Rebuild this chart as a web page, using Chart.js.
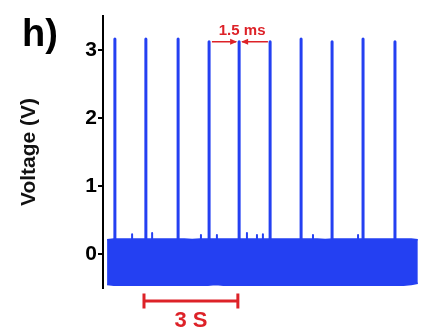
<!DOCTYPE html>
<html>
<head>
<meta charset="utf-8">
<script src="https://cdn.jsdelivr.net/npm/chart.js@4/dist/chart.umd.min.js"></script>
<style>
  html, body { margin: 0; padding: 0; background: #fff; }
  #wrap { width: 433px; height: 329px; position: relative; }
</style>
</head>
<body>
<div id="wrap"><canvas id="trace"></canvas></div>
<script>
// spike train, time in seconds, voltage in volts
const spikeTimes = [0.38, 1.37, 2.4, 3.39, 4.35, 5.34, 6.33, 7.32, 8.31, 9.33];
const spikePeaks = [3.16, 3.16, 3.16, 3.12, 3.12, 3.12, 3.16, 3.12, 3.16, 3.12];

// small blips poking out of the noise band
const blipTimes = [0.93, 1.57, 3.13, 3.64, 4.6, 4.92, 5.11, 6.71, 8.15];
const blipPeaks = [0.29, 0.31, 0.28, 0.28, 0.31, 0.28, 0.29, 0.28, 0.28];

// envelope of the dense noise band
const bandTimes = [0.13, 0.35, 0.6, 0.85, 1.1, 1.35, 1.6, 1.85, 2.1, 2.35, 2.6, 2.85, 3.1, 3.35, 3.6, 3.85, 4.1, 4.35, 4.6, 4.85, 5.1,
  5.35, 5.6, 5.85, 6.1, 6.35, 6.6, 6.85, 7.1, 7.35, 7.6, 7.85, 8.1, 8.35, 8.6, 8.85, 9.1, 9.35, 9.6, 9.85, 10.06];
const bandUpper = [0.21, 0.22, 0.22, 0.22, 0.22, 0.22, 0.22, 0.22, 0.22, 0.22, 0.22, 0.215, 0.22, 0.22, 0.22, 0.22, 0.22, 0.22, 0.22, 0.22, 0.22,
  0.22, 0.22, 0.22, 0.22, 0.22, 0.22, 0.22, 0.215, 0.22, 0.22, 0.22, 0.22, 0.22, 0.22, 0.22, 0.22, 0.22, 0.22, 0.22, 0.21];
const bandLower = [-0.45, -0.46, -0.46, -0.46, -0.455, -0.46, -0.46, -0.46, -0.46, -0.455, -0.46, -0.46, -0.46, -0.46, -0.45, -0.46, -0.46, -0.46, -0.46, -0.455, -0.46,
  -0.46, -0.46, -0.46, -0.46, -0.455, -0.46, -0.46, -0.46, -0.46, -0.46, -0.455, -0.46, -0.46, -0.46, -0.46, -0.46, -0.455, -0.46, -0.45, -0.43];

const yTicks = [0, 1, 2, 3];

// annotations
const scaleBar = { from: 1.31, to: 4.31, level: -0.69, label: "3 S" };
const widthMark = { from: 3.48, to: 5.27, at: 4.35, level: 3.12, label: "1.5 ms" };

const BLUE = "#2440f2";
const RED = "#dd2228";
const FONT = "'Liberation Sans', Arial, sans-serif";

function pulses(times, peaks, base) {
  const pts = [];
  times.forEach((t, i) => {
    pts.push({ x: t, y: base }, { x: t, y: peaks[i] }, { x: t, y: base }, { x: t, y: null });
  });
  return pts;
}

const annotations = {
  id: "annotations",
  afterDraw(chart) {
    const ctx = chart.ctx;
    const xs = chart.scales.x, ys = chart.scales.y;
    ctx.save();

    // panel letter
    ctx.fillStyle = "#000";
    ctx.font = "bold 38px " + FONT;
    ctx.textAlign = "left";
    ctx.textBaseline = "alphabetic";
    ctx.fillText("h)", 22, 46);

    // time scale bar
    const x1 = xs.getPixelForValue(scaleBar.from);
    const x2 = xs.getPixelForValue(scaleBar.to);
    const yb = ys.getPixelForValue(scaleBar.level);
    ctx.strokeStyle = RED;
    ctx.lineWidth = 3;
    ctx.beginPath();
    ctx.moveTo(x1, yb); ctx.lineTo(x2, yb);
    ctx.moveTo(x1, yb - 7.5); ctx.lineTo(x1, yb + 7.5);
    ctx.moveTo(x2, yb - 7.5); ctx.lineTo(x2, yb + 7.5);
    ctx.stroke();
    ctx.fillStyle = RED;
    ctx.font = "bold 22px " + FONT;
    ctx.textAlign = "center";
    ctx.fillText(scaleBar.label, (x1 + x2) / 2, yb + 26);

    // pulse width marker
    const a = xs.getPixelForValue(widthMark.from);
    const b = xs.getPixelForValue(widthMark.to);
    const c = xs.getPixelForValue(widthMark.at);
    const ym = ys.getPixelForValue(widthMark.level);
    ctx.lineWidth = 1.5;
    ctx.beginPath();
    ctx.moveTo(a, ym); ctx.lineTo(c - 3, ym);
    ctx.moveTo(c + 3, ym); ctx.lineTo(b, ym);
    ctx.stroke();
    ctx.beginPath();
    ctx.moveTo(c - 2, ym); ctx.lineTo(c - 9, ym - 3); ctx.lineTo(c - 9, ym + 3); ctx.closePath();
    ctx.moveTo(c + 2, ym); ctx.lineTo(c + 9, ym - 3); ctx.lineTo(c + 9, ym + 3); ctx.closePath();
    ctx.fill();
    ctx.font = "bold 15px " + FONT;
    ctx.fillText(widthMark.label, c + 3, ym - 7);

    ctx.restore();
  },
};

new Chart(document.getElementById("trace"), {
  type: "line",
  data: {
    datasets: [
      {
        label: "band top",
        data: bandTimes.map((t, i) => ({ x: t, y: bandUpper[i] })),
        borderColor: BLUE,
        borderWidth: 1.5,
        fill: false,
      },
      {
        label: "band bottom",
        data: bandTimes.map((t, i) => ({ x: t, y: bandLower[i] })),
        borderColor: BLUE,
        borderWidth: 1.5,
        backgroundColor: BLUE,
        fill: "-1",
      },
      {
        label: "blips",
        data: pulses(blipTimes, blipPeaks, 0.1),
        borderColor: BLUE,
        borderWidth: 2,
        borderCapStyle: "round",
        fill: false,
      },
      {
        label: "spikes",
        data: pulses(spikeTimes, spikePeaks, 0.1),
        borderColor: BLUE,
        borderWidth: 3,
        borderCapStyle: "round",
        fill: false,
      },
    ],
  },
  options: {
    responsive: true,
    maintainAspectRatio: false,
    animation: false,
    spanGaps: false,
    elements: { point: { radius: 0 }, line: { tension: 0, borderJoinStyle: "round" } },
    layout: { padding: { left: 0, top: 16, right: 13, bottom: 41 } },
    plugins: { legend: { display: false }, tooltip: { enabled: false } },
    scales: {
      x: { type: "linear", min: 0, max: 10.13, display: false },
      y: {
        min: -0.5,
        max: 3.5,
        afterBuildTicks(axis) {
          axis.ticks = yTicks.map((v) => ({ value: v }));
        },
        afterFit(axis) {
          axis.width = 103;
        },
        border: { display: true, color: "#000", width: 2 },
        grid: { drawOnChartArea: false, drawTicks: true, tickLength: 5, color: "#000", lineWidth: 2 },
        ticks: { color: "#000", padding: 1, font: { family: FONT, size: 21, weight: "bold" } },
        title: {
          display: true,
          text: "Voltage (V)",
          color: "#111",
          padding: { top: 17, bottom: 0 },
          font: { family: FONT, size: 21, weight: "bold" },
        },
      },
    },
  },
  plugins: [annotations],
});
</script>
</body>
</html>
